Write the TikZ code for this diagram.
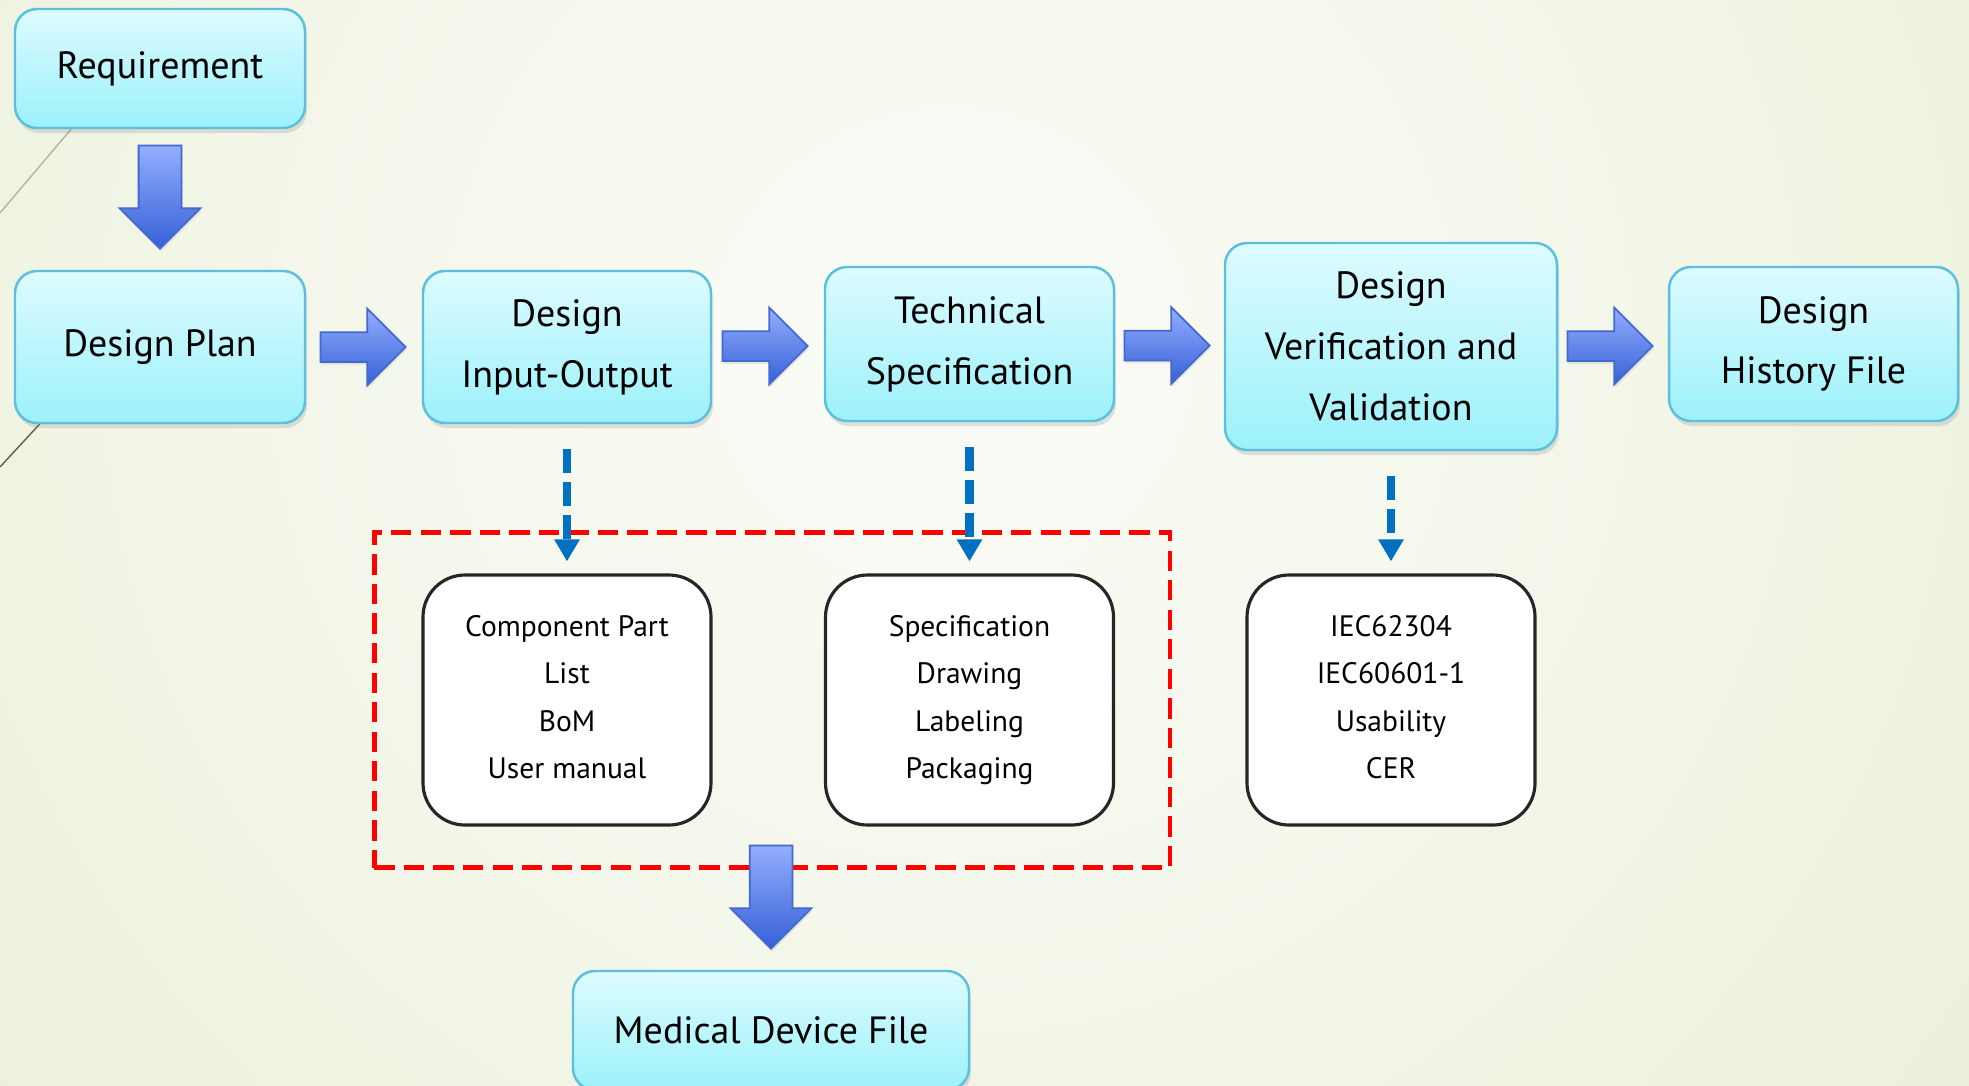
\documentclass[tikz,border=0pt]{standalone}
\usepackage{fontspec}
\setmainfont{PT Sans}
\definecolor{boxtop}{HTML}{DDFBFF}
\definecolor{boxbottom}{HTML}{9CF1FA}
\definecolor{boxline}{HTML}{5BBFDD}
\definecolor{arrtop}{HTML}{94AEFF}
\definecolor{arrbottom}{HTML}{3560D6}
\definecolor{arrline}{HTML}{4169CF}
\definecolor{flowblue}{HTML}{0070C0}
\definecolor{bgin}{HTML}{FBFCF8}
\definecolor{bgout}{HTML}{DCE6BF}
\usetikzlibrary{calc, positioning, shapes.arrows, arrows.meta, shadows, fit}

\begin{document}
\begin{tikzpicture}[
  stage/.style={draw=boxline, line width=0.7pt, rounded corners=0.22cm,
    top color=boxtop, bottom color=boxbottom, align=center,
    font=\fontsize{10.8}{17.3}\selectfont,
    drop shadow={opacity=0.22, shadow xshift=0.02cm, shadow yshift=-0.05cm}},
  detail/.style={draw=black!85, line width=0.9pt, rounded corners=0.42cm,
    fill=white, minimum width=2.88cm, minimum height=2.5cm, align=center,
    font=\fontsize{8.4}{13.5}\selectfont},
  bigarrow/.style={single arrow, draw=arrline, line width=0.5pt,
    top color=arrtop, bottom color=arrbottom, inner sep=0.14cm,
    single arrow head extend=0.235cm, minimum width=0.75cm, minimum height=0.85cm,
    drop shadow={opacity=0.15, shadow xshift=0.01cm, shadow yshift=-0.03cm}},
  downarrow/.style={bigarrow, shape border rotate=270, inner sep=0.205cm,
    single arrow head extend=0.19cm, minimum width=0.80cm, minimum height=1.03cm},
  flow/.style={flowblue, line width=2.5pt, dash pattern=on 6.8pt off 2.5pt,
    -{Triangle[width=0.24cm,length=0.22cm]}, shorten <=0.25cm, shorten >=0.12cm},
]
  % Background
  \useasboundingbox (0,0) rectangle (19.69,-10.85);
  \clip (0,0) rectangle (19.69,-10.85);
  \shade[inner color=bgin, outer color=bgout] (9.5,-3.5) circle (25);
  \draw[color={rgb,255:red,184;green,179;blue,154}, line width=0.4pt] (0,-2.13) -- (1.0,-0.95);
  \draw[color={rgb,255:red,107;green,90;blue,64}, line width=0.4pt] (0,-4.67) -- (0.6,-4.02);

  % Main stages
  \node[stage, minimum width=2.90cm, minimum height=1.19cm] (req) at (1.60,-0.685) {Requirement};
  \node[stage, minimum width=2.90cm, minimum height=1.52cm] (plan) at (1.60,-3.47) {Design Plan};
  \node[stage, minimum width=2.88cm, minimum height=1.52cm] (io) at (5.67,-3.47) {Design\\Input-Output};
  \node[stage, minimum width=2.89cm, minimum height=1.54cm] (tech) at (9.695,-3.44) {Technical\\Specification};
  \node[stage, minimum width=3.32cm, minimum height=2.07cm] (vv) at (13.91,-3.465) {Design\\Verification and\\Validation};
  \node[stage, minimum width=2.89cm, minimum height=1.54cm] (dhf) at (18.135,-3.44) {Design\\History File};

  % Outputs of each stage
  \node[detail] (parts) at (5.67,-7.00) {Component Part\\List\\BoM\\User manual\vphantom{g}};
  \node[detail] (specs) at (9.695,-7.00) {Specification\\Drawing\\Labeling\\Packaging};
  \node[detail] (stds) at (13.91,-7.00) {IEC62304\\IEC60601-1\\Usability\\CER\vphantom{g}};
  \node[draw=red, line width=1.3pt, dash pattern=on 5.8pt off 2.6pt, xshift=0.04cm,
    fit=(parts)(specs), inner xsep=0.51cm, inner ysep=0.41cm] (group) {};

  \node[stage, minimum width=3.96cm, minimum height=1.19cm] (mdf) at (7.71,-10.305) {Medical Device File};

  % Block arrows
  \node[downarrow, anchor=tip] (a0) at ($(plan.north)+(0,0.2)$) {};
  \node[bigarrow, anchor=tip] (a1) at ($(io.west)+(-0.15,0)$) {};
  \node[bigarrow, anchor=tip] (a2) at ($(tech.west)+(-0.15,-0.02)$) {};
  \node[bigarrow, anchor=tip] (a3) at ($(vv.west)+(-0.13,0.01)$) {};
  \node[bigarrow, anchor=tip] (a4) at ($(dhf.west)+(-0.14,-0.02)$) {};
  \node[downarrow, anchor=tip] (a5) at ($(mdf.north)+(0,0.2)$) {};

  % Dashed links
  \draw[flow] (io.south) -- (parts.north);
  \draw[flow] (tech.south) -- (specs.north);
  \draw[flow] (vv.south) -- (stds.north);
\end{tikzpicture}
\end{document}
